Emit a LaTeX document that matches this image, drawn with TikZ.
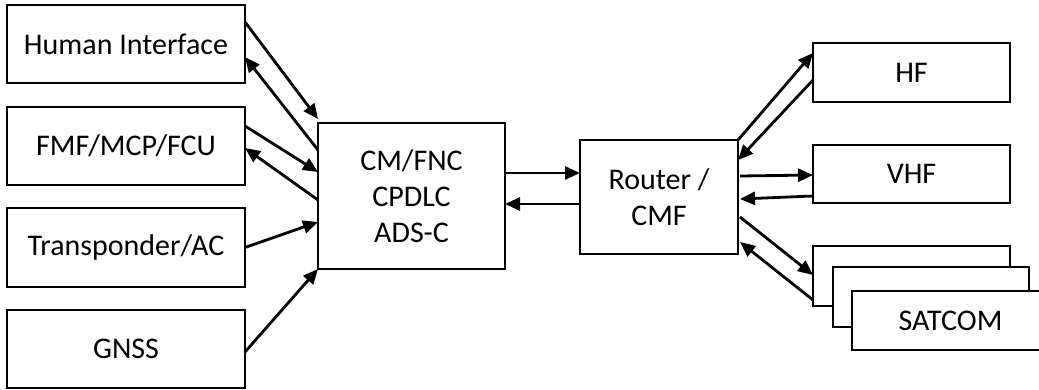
\documentclass[tikz,border=0pt]{standalone}
\usepackage{fontspec}
\setmainfont{Carlito}
\usetikzlibrary{arrows.meta}
\begin{document}
\begin{tikzpicture}[x=1pt,y=-1pt,
  box/.style={draw=black,line width=2.8pt,fill=white,inner sep=0pt,outer sep=0pt,align=center,
    font=\fontsize{30}{36}\selectfont},
  conn/.style={line width=2.8pt,-{Triangle[length=15pt,width=13pt]},shorten >=0pt}]
\useasboundingbox (0,0) rectangle (1039,389);
% left column
\node[box,minimum width=238pt,minimum height=78pt] (hi) at (126,44) {Human Interface};
\node[box,minimum width=238pt,minimum height=78pt] (fmf) at (126,146) {FMF/MCP/FCU};
\node[box,minimum width=238pt,minimum height=79pt] (tr) at (126,247.5) {Transponder/AC};
\node[box,minimum width=238pt,minimum height=78pt] (gnss) at (126,349) {GNSS};
% centre
\node[box,minimum width=187pt,minimum height=146pt] (cm) at (411.5,196) {CM/FNC\\CPDLC\\ADS-C};
\node[box,minimum width=158pt,minimum height=114pt] (rt) at (659,197) {Router /\\CMF};
% right column
\node[box,minimum width=197pt,minimum height=59pt] (hf) at (911.5,72.5) {HF};
\node[box,minimum width=197pt,minimum height=58pt] (vhf) at (911.5,174) {VHF};
\node[box,minimum width=197pt,minimum height=60pt] (s1) at (911.5,276) {};
\node[box,minimum width=196pt,minimum height=60pt] (s2) at (931,297) {};
\node[box,minimum width=230pt,minimum height=59pt] (s3) at (967,320.5) {\makebox[197pt][c]{SATCOM}\hspace*{33pt}};
% left connectors
\draw[conn] ([yshift=22pt]hi.east) -- ([yshift=4pt]cm.north west);
\draw[conn] ([yshift=-27pt]cm.north west) -- ([yshift=-13pt]hi.east);
\draw[conn] ([yshift=20pt]fmf.east) -- ([yshift=-49pt]cm.north west);
\draw[conn] ([yshift=-77pt]cm.north west) -- ([yshift=-2pt]fmf.east);
\draw[conn] (tr.east) -- ([yshift=-26pt]cm.west);
\draw[conn] ([yshift=-3pt]gnss.east) -- (cm.south west);
% centre connectors
\draw[conn] ([yshift=23pt]cm.east) -- ([yshift=24pt]rt.west);
\draw[conn] ([yshift=-7pt]rt.west) -- ([yshift=-8pt]cm.east);
% right connectors
\draw[conn] (rt.north east) -- ([yshift=19.5pt]hf.west);
\draw[conn] ([yshift=-7.5pt]hf.west) -- ([yshift=-20pt]rt.north east);
\draw[conn] ([xshift=2pt,yshift=21pt]rt.east) -- ([yshift=-1pt]vhf.west);
\draw[conn] ([yshift=-22pt]vhf.west) -- ([xshift=2pt,yshift=-2pt]rt.east);
\draw[conn] ([xshift=2pt,yshift=-20pt]rt.east) -- ([yshift=1pt]s1.west);
\draw[conn] ([yshift=-24pt]s1.west) -- ([xshift=2pt,yshift=-45pt]rt.east);
\end{tikzpicture}
\end{document}
